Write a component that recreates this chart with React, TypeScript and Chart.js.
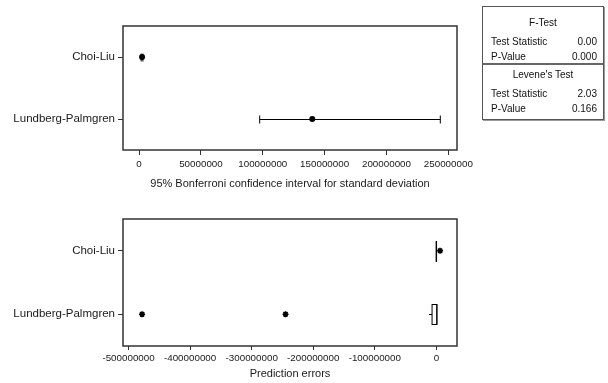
import React, { useEffect, useRef } from 'react';
import { Chart, registerables } from 'chart.js';
Chart.register(...registerables);

const FONT = '"Liberation Sans", Arial, sans-serif';
const TEXT = '#1a1a1a';

const categories = ['Choi-Liu', 'Lundberg-Palmgren'];

// Top panel: 95% Bonferroni confidence interval for standard deviation
const ciLower = [1700000, 97500000];
const ciEstimate = [2400000, 140000000];
const ciUpper = [3100000, 243500000];
const topTicks = [0, 50000000, 100000000, 150000000, 200000000, 250000000];
const topRange = [-13000000, 257000000];

// Bottom panel: boxplot of prediction errors
const boxQ1 = [-300000, -7000000];
const boxMedian = [0, 600000];
const boxQ3 = [300000, 1000000];
const whiskerLow = [0, -12000000];
const whiskerHigh = [0, 1000000];
const outliersChoiLiu = [6000000];
const outliersLundberg = [-478000000, -245000000];
const bottomTicks = [-500000000, -400000000, -300000000, -200000000, -100000000, 0];
const bottomRange = [-509000000, 33500000];

// Test results table
const fTest = [['Test Statistic', '0.00'], ['P-Value', '0.000']];
const leveneTest = [['Test Statistic', '2.03'], ['P-Value', '0.166']];

const framePlugin = {
  id: 'frame',
  afterDraw(chart: any) {
    const { ctx, chartArea: a } = chart;
    ctx.save();
    ctx.strokeStyle = '#333';
    ctx.lineWidth = 1.5;
    ctx.strokeRect(a.left, a.top, a.right - a.left, a.bottom - a.top);
    ctx.restore();
  },
};

const ciPlugin = {
  id: 'ci',
  beforeDatasetsDraw(chart: any) {
    const { ctx, scales } = chart;
    const x = scales.x, y = scales.y;
    ctx.save();
    ctx.strokeStyle = '#000';
    ctx.lineWidth = 1;
    categories.forEach((c, i) => {
      const py = Math.round(y.getPixelForValue(i)) + 0.5;
      const x1 = x.getPixelForValue(ciLower[i]);
      const x2 = x.getPixelForValue(ciUpper[i]);
      ctx.beginPath();
      ctx.moveTo(x1, py); ctx.lineTo(x2, py);
      ctx.moveTo(x1, py - 4); ctx.lineTo(x1, py + 4);
      ctx.moveTo(x2, py - 4); ctx.lineTo(x2, py + 4);
      ctx.stroke();
    });
    ctx.restore();
  },
};

const boxPlugin = {
  id: 'box',
  beforeDatasetsDraw(chart: any) {
    const { ctx, scales } = chart;
    const x = scales.x, y = scales.y;
    ctx.save();
    ctx.strokeStyle = '#000';
    ctx.lineWidth = 1;
    categories.forEach((c, i) => {
      const py = Math.round(y.getPixelForValue(i)) + 0.5;
      const h = 10;
      const q1 = x.getPixelForValue(boxQ1[i]);
      const q3 = x.getPixelForValue(boxQ3[i]);
      const md = x.getPixelForValue(boxMedian[i]);
      const wl = x.getPixelForValue(whiskerLow[i]);
      const wh = x.getPixelForValue(whiskerHigh[i]);
      ctx.beginPath();
      ctx.moveTo(wl, py); ctx.lineTo(q1, py);
      ctx.moveTo(q3, py); ctx.lineTo(wh, py);
      ctx.stroke();
      ctx.fillStyle = '#fff';
      ctx.fillRect(q1, py - h, q3 - q1, 2 * h);
      ctx.strokeRect(q1, py - h, q3 - q1, 2 * h);
      ctx.beginPath();
      ctx.moveTo(md, py - h); ctx.lineTo(md, py + h);
      ctx.stroke();
    });
    ctx.restore();
  },
};

function makeConfig(opts: any) {
  return {
    type: 'scatter',
    data: { datasets: opts.datasets },
    options: {
      responsive: false,
      animation: false,
      events: [],
      layout: { padding: { top: opts.padTop, right: 151, left: 0, bottom: 0 } },
      plugins: { legend: { display: false }, tooltip: { enabled: false } },
      scales: {
        x: {
          type: 'linear',
          min: opts.range[0],
          max: opts.range[1],
          afterBuildTicks: (s: any) => { s.ticks = opts.ticks.map((v: number) => ({ value: v })); },
          afterFit: (s: any) => { s.height = opts.xHeight; },
          ticks: {
            autoSkip: false, maxRotation: 0, padding: opts.tickPad,
            color: TEXT, font: { family: FONT, size: 9.8 },
            callback: (v: any) => String(v),
          },
          grid: { drawOnChartArea: false, drawTicks: true, tickLength: opts.tickLen, color: '#333' },
          border: { display: false },
          title: {
            display: true, text: opts.title, color: TEXT,
            font: { family: FONT, size: 11 }, padding: { top: 0, bottom: opts.titlePad },
          },
        },
        y: {
          type: 'category',
          labels: categories,
          offset: true,
          afterFit: (s: any) => { s.width = 123; },
          ticks: { color: TEXT, font: { family: FONT, size: 11.5 }, padding: 3 },
          grid: { offset: false, drawOnChartArea: false, drawTicks: true, tickLength: 5, color: '#333' },
          border: { display: false },
        },
      },
    },
    plugins: opts.plugins,
  } as any;
}

export default function App() {
  const topRef = useRef<HTMLCanvasElement>(null);
  const botRef = useRef<HTMLCanvasElement>(null);

  useEffect(() => {
    const top = new Chart(topRef.current as HTMLCanvasElement, makeConfig({
      range: topRange, ticks: topTicks, padTop: 26, xHeight: 45, tickLen: 5, tickPad: 3, titlePad: 4,
      title: '95% Bonferroni confidence interval for standard deviation',
      plugins: [ciPlugin, framePlugin],
      datasets: [{
        data: categories.map((c, i) => ({ x: ciEstimate[i], y: c })),
        pointRadius: 3, pointBackgroundColor: '#000', pointBorderColor: '#000', pointBorderWidth: 0,
      }],
    }));
    const bottom = new Chart(botRef.current as HTMLCanvasElement, makeConfig({
      range: bottomRange, ticks: bottomTicks, padTop: 24, xHeight: 37, tickLen: 4, tickPad: 2, titlePad: 2,
      title: 'Prediction errors',
      plugins: [boxPlugin, framePlugin],
      datasets: [{
        data: [
          ...outliersChoiLiu.map((v) => ({ x: v, y: categories[0] })),
          ...outliersLundberg.map((v) => ({ x: v, y: categories[1] })),
        ],
        pointStyle: 'star', pointRadius: 3, pointBorderColor: '#000', pointBorderWidth: 1.6,
      }],
    }));
    return () => { top.destroy(); bottom.destroy(); };
  }, []);

  const cell: React.CSSProperties = { position: 'absolute', fontFamily: FONT, fontSize: 10, color: '#111', lineHeight: '12px', whiteSpace: 'nowrap' };
  const rowsFor = (rows: string[][], y0: number) => rows.map((r, k) => (
    <React.Fragment key={r[0] + y0 + k}>
      <div style={{ ...cell, left: 8, top: y0 + k * 15 - 6 }}>{r[0]}</div>
      <div style={{ ...cell, right: 6, top: y0 + k * 15 - 6 }}>{r[1]}</div>
    </React.Fragment>
  ));

  return (
    <div style={{ position: 'fixed', left: 0, top: 0, width: 608, height: 383, background: '#fff', overflow: 'hidden' }}>
      <canvas ref={topRef} width={608} height={195} style={{ position: 'absolute', left: 0, top: 0, display: 'block' }} />
      <canvas ref={botRef} width={608} height={188} style={{ position: 'absolute', left: 0, top: 195, display: 'block' }} />
      <div style={{ position: 'absolute', left: 482, top: 6, width: 120, height: 112, border: '1px solid #555', boxShadow: '1px 1px 0 #999', background: '#fff' }}>
        <div style={{ ...cell, left: 0, width: 120, textAlign: 'center', top: 10 }}>F-Test</div>
        {rowsFor(fTest, 35)}
        <div style={{ position: 'absolute', left: 0, width: 120, top: 56, borderTop: '2px solid #666' }} />
        <div style={{ ...cell, left: 0, width: 120, textAlign: 'center', top: 62 }}>Levene's Test</div>
        {rowsFor(leveneTest, 87)}
      </div>
    </div>
  );
}
